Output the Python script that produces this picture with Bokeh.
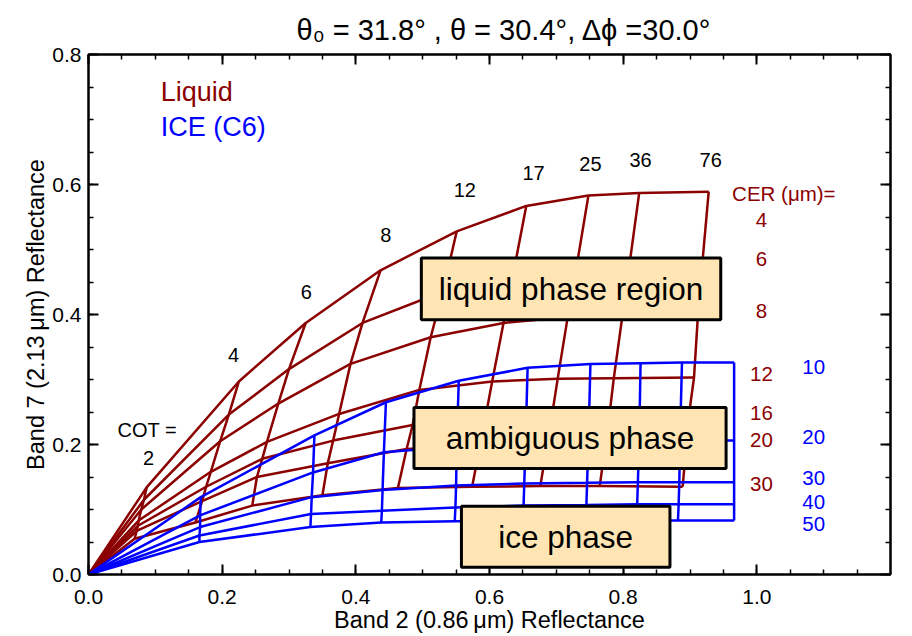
from bokeh.plotting import figure
from bokeh.models import (Range1d, SingleIntervalTicker, LinearAxis, PrintfTickFormatter,
                          BoxAnnotation, Label, Title, ColumnDataSource)
from bokeh.embed import file_html
from bokeh.resources import INLINE
from bokeh.core.properties import value

# ---------------- data ----------------
cot = [0, 2, 4, 6, 8, 12, 17, 25, 36, 76]
liq_cer = [4, 6, 8, 12, 16, 20, 30]
ice_cer = [10, 20, 30, 40, 50]

# Liquid LUT: rows = CER, cols = COT
liq_x = [
    [0, 0.087, 0.225, 0.325, 0.437, 0.551, 0.655, 0.748, 0.824, 0.928],
    [0, 0.083, 0.210, 0.300, 0.410, 0.530, 0.636, 0.731, 0.810, 0.919],
    [0, 0.079, 0.197, 0.284, 0.392, 0.512, 0.621, 0.717, 0.799, 0.912],
    [0, 0.075, 0.183, 0.267, 0.375, 0.495, 0.604, 0.702, 0.786, 0.906],
    [0, 0.074, 0.176, 0.260, 0.366, 0.485, 0.594, 0.694, 0.780, 0.899],
    [0, 0.072, 0.170, 0.252, 0.358, 0.476, 0.586, 0.687, 0.774, 0.895],
    [0, 0.069, 0.160, 0.245, 0.350, 0.463, 0.574, 0.676, 0.765, 0.889],
]
liq_y = [
    [0, 0.134, 0.297, 0.387, 0.468, 0.528, 0.567, 0.583, 0.587, 0.589],
    [0, 0.115, 0.246, 0.316, 0.387, 0.435, 0.465, 0.478, 0.481, 0.485],
    [0, 0.100, 0.205, 0.263, 0.324, 0.365, 0.387, 0.396, 0.399, 0.401],
    [0, 0.083, 0.158, 0.204, 0.247, 0.284, 0.297, 0.301, 0.302, 0.303],
    [0, 0.075, 0.135, 0.178, 0.206, 0.230, 0.242, 0.248, 0.250, 0.250],
    [0, 0.067, 0.113, 0.150, 0.171, 0.193, 0.199, 0.204, 0.205, 0.205],
    [0, 0.055, 0.080, 0.106, 0.122, 0.133, 0.135, 0.136, 0.136, 0.135],
]

# Ice (C6) LUT: rows = CER, cols = COT
ice_x = [
    [0, 0.168, 0.338, 0.445, 0.554, 0.657, 0.751, 0.826, 0.888, 0.966],
    [0, 0.167, 0.336, 0.442, 0.551, 0.654, 0.748, 0.824, 0.885, 0.966],
    [0, 0.167, 0.334, 0.440, 0.550, 0.652, 0.746, 0.822, 0.884, 0.966],
    [0, 0.166, 0.333, 0.439, 0.549, 0.651, 0.745, 0.821, 0.883, 0.966],
    [0, 0.166, 0.332, 0.438, 0.548, 0.651, 0.745, 0.821, 0.882, 0.966],
]
ice_y = [
    [0, 0.119, 0.214, 0.265, 0.298, 0.318, 0.324, 0.325, 0.326, 0.326],
    [0, 0.091, 0.157, 0.188, 0.197, 0.202, 0.204, 0.205, 0.206, 0.206],
    [0, 0.073, 0.119, 0.130, 0.137, 0.140, 0.141, 0.142, 0.142, 0.142],
    [0, 0.060, 0.093, 0.098, 0.103, 0.106, 0.107, 0.108, 0.108, 0.108],
    [0, 0.050, 0.073, 0.080, 0.082, 0.083, 0.083, 0.083, 0.083, 0.083],
]

# label texts
title_text = "θ₀ = 31.8° , θ = 30.4°, Δϕ =30.0°"
cot_labels = ["2", "4", "6", "8", "12", "17", "25", "36", "76"]
liq_cer_labels = ["4", "6", "8", "12", "16", "20", "30"]
ice_cer_labels = ["10", "20", "30", "40", "50"]

# label positions (annotation placement)
cot_lab_x = [0.090, 0.217, 0.326, 0.445, 0.563, 0.666, 0.751, 0.826, 0.931]
cot_lab_y = [0.180, 0.338, 0.434, 0.522, 0.592, 0.618, 0.632, 0.637, 0.637]
liq_lab_y = [0.545, 0.486, 0.405, 0.308, 0.249, 0.207, 0.140]
ice_lab_y = [0.320, 0.212, 0.148, 0.112, 0.077]

FONT = "Liberation Sans"
LIQ = "#8B0000"
ICE = "#0000FF"
LW = 2.5

p = figure(width=904, height=636, x_range=Range1d(0, 1.2), y_range=Range1d(0, 0.8),
           output_backend="svg", toolbar_location=None,
           min_border_left=88, min_border_right=14, min_border_top=54, min_border_bottom=62)
p.grid.visible = False
p.background_fill_color = "white"
p.border_fill_color = "white"
p.outline_line_color = "black"
p.outline_line_width = 2

p.title = Title(text=title_text, align="left", offset=208,
                text_font=FONT, text_font_size="29px", text_font_style="normal",
                text_color="black", standoff=17)

def style_axis(ax, labels=True):
    ax.axis_line_width = 2
    ax.axis_line_color = "black"
    ax.major_tick_in = 10
    ax.major_tick_out = 0
    ax.minor_tick_in = 5
    ax.minor_tick_out = 0
    ax.major_tick_line_width = 2
    ax.minor_tick_line_width = 1.5
    ax.major_tick_line_color = "black"
    ax.minor_tick_line_color = "black"
    if labels:
        ax.major_label_text_font = FONT
        ax.major_label_text_font_size = "21px"
        ax.major_label_text_color = "black"
        ax.axis_label_text_font = FONT
        ax.axis_label_text_font_size = "23.5px"
        ax.axis_label_text_font_style = "normal"
        ax.axis_label_text_color = "black"
        ax.formatter = PrintfTickFormatter(format="%.1f")
    else:
        ax.major_label_text_font_size = "1px"
        ax.major_label_text_color = None
        ax.major_label_standoff = 0
        ax.axis_label_standoff = 0

xa = p.xaxis[0]
ya = p.yaxis[0]
xa.ticker = SingleIntervalTicker(interval=0.2, num_minor_ticks=4)
ya.ticker = SingleIntervalTicker(interval=0.2, num_minor_ticks=4)
style_axis(xa)
style_axis(ya)
xa.axis_label = "Band 2 (0.86\u2009μm) Reflectance"
ya.axis_label = "Band 7 (2.13\u2009μm) Reflectance"
xa.major_label_standoff = 15
xa.axis_label_standoff = 0
ya.major_label_standoff = 7
ya.axis_label_standoff = 0

top = LinearAxis(ticker=SingleIntervalTicker(interval=0.2, num_minor_ticks=4))
right = LinearAxis(ticker=SingleIntervalTicker(interval=0.2, num_minor_ticks=4))
style_axis(top, labels=False)
style_axis(right, labels=False)
p.add_layout(top, "above")
p.add_layout(right, "right")

# liquid grid
for xr, yr in zip(liq_x, liq_y):
    p.line(xr, yr, line_color=LIQ, line_width=LW)
for j in range(1, len(cot)):
    p.line([r[j] for r in liq_x], [r[j] for r in liq_y], line_color=LIQ, line_width=LW)

# ice grid
for xr, yr in zip(ice_x, ice_y):
    p.line(xr, yr, line_color=ICE, line_width=LW)
for j in range(1, len(cot)):
    p.line([r[j] for r in ice_x], [r[j] for r in ice_y], line_color=ICE, line_width=LW)

def txt(x, y, t, color="black", size="20px", align="center", style="normal"):
    src = ColumnDataSource(dict(x=x, y=y, t=t))
    p.text("x", "y", text="t", source=src, text_color=color, text_font=value(FONT),
           text_font_size=size, text_align=align, text_baseline="middle",
           text_font_style=style)

txt(cot_lab_x, cot_lab_y, cot_labels)
txt([0.088], [0.222], ["COT ="])
txt([0.108], [0.742], ["Liquid"], color=LIQ, size="27px", align="left")
txt([0.108], [0.688], ["ICE (C6)"], color=ICE, size="27px", align="left")
txt([0.963], [0.586], ["CER (μm)="], color=LIQ, size="20.5px", align="left")
txt([1.007] * len(liq_cer_labels), liq_lab_y, liq_cer_labels, color=LIQ, size="20.5px")
txt([1.085] * len(ice_cer_labels), ice_lab_y, ice_cer_labels, color=ICE, size="20.5px")

# phase boxes
boxes = [
    (0.498, 0.946, 0.392, 0.487, "liquid phase region"),
    (0.487, 0.954, 0.163, 0.257, "ambiguous phase"),
    (0.558, 0.870, 0.011, 0.105, "ice phase"),
]
for l, r, b, t, s in boxes:
    p.add_layout(BoxAnnotation(left=l, right=r, bottom=b, top=t, fill_color="#FEE5B3",
                               fill_alpha=1.0, line_color="black", line_width=3, line_alpha=1.0))
    p.add_layout(Label(x=(l + r) / 2, y=(b + t) / 2, text=s, text_align="center",
                       text_baseline="middle", text_font=FONT, text_font_size="31.5px",
                       text_color="black"))

open("out.html", "w").write(file_html(p, INLINE))
